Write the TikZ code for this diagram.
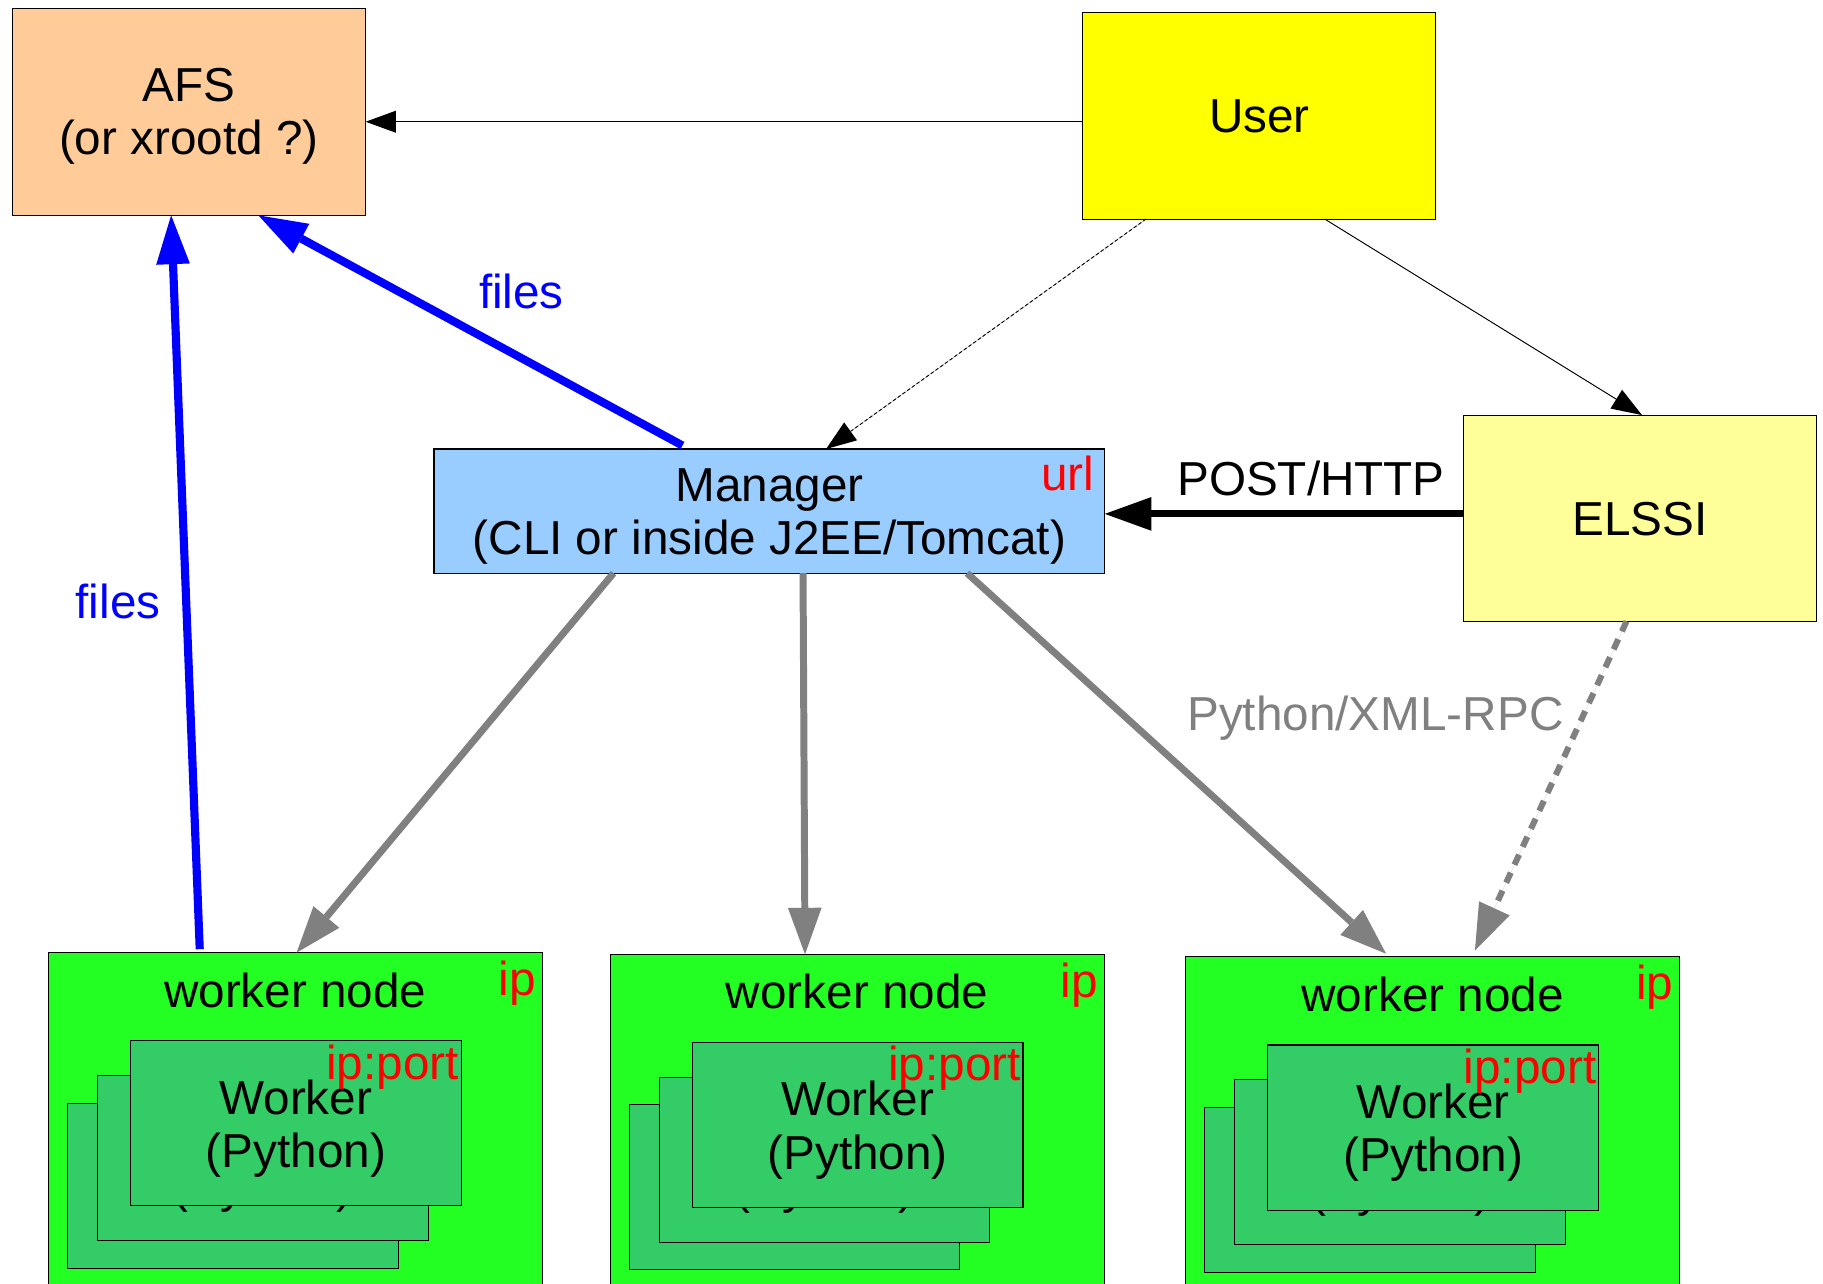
\documentclass[tikz,border=0pt]{standalone}
\usepackage{fontspec}
\setmainfont{Liberation Sans}
\usetikzlibrary{arrows.meta}
\definecolor{afsc}{HTML}{FFCC99}
\definecolor{userc}{HTML}{FFFF00}
\definecolor{elssic}{HTML}{FFFF99}
\definecolor{mgrc}{HTML}{99CCFF}
\definecolor{wnc}{HTML}{23FF23}
\definecolor{wkc}{HTML}{33CC66}
\definecolor{grayc}{HTML}{808080}
\definecolor{bluec}{HTML}{0000FF}
\definecolor{redc}{HTML}{FF0000}
\newcommand\fsz{\fontsize{41}{46}\selectfont}
\newcommand\wnodegroup[3]{%
  \node[box,fill=wnc,minimum width=425pt,minimum height=300pt] (#1) at (#2,#3) {};
  \node[lbl] (#1t) at ([yshift=-47pt]#1.north) {worker node};
  \node[lbl,anchor=base east,text=redc] (#1ip) at ([xshift=-5.5pt,yshift=-37pt]#1.north east) {ip};
  \node[box,fill=wkc,minimum width=284.5pt,minimum height=142pt] (#1b) at ([xshift=16.4pt,yshift=-129.5pt]#1.north west) {};
  \node[lbl] (#1bt1) at ([yshift=-63pt]#1b.north) {Worker};
  \node[lbl] (#1bt2) at ([yshift=-109pt]#1b.north) {(Python)};
  \node[box,fill=wkc,minimum width=284.5pt,minimum height=142pt] (#1m) at ([xshift=42.2pt,yshift=-105.6pt]#1.north west) {};
  \node[lbl] (#1mt1) at ([yshift=-63pt]#1m.north) {Worker};
  \node[lbl] (#1mt2) at ([yshift=-109pt]#1m.north) {(Python)};
  \node[box,fill=wkc,minimum width=284.5pt,minimum height=142pt] (#1f) at ([xshift=70.7pt,yshift=-75.8pt]#1.north west) {};
  \node[lbl] (#1ft1) at ([yshift=-63pt]#1f.north) {Worker};
  \node[lbl] (#1ft2) at ([yshift=-109pt]#1f.north) {(Python)};
  \node[lbl,anchor=base east,text=redc] (#1fport) at ([xshift=-2pt,yshift=-33pt]#1f.north east) {ip:port};
}
\begin{document}
\begin{tikzpicture}[x=1pt,y=-1pt,
  box/.style={draw=black,line width=0.9pt,inner sep=0pt,outer sep=0pt,anchor=north west},
  lbl/.style={inner sep=0pt,outer sep=0pt,anchor=base,font=\fsz},
  thinarr/.style={draw=black,line width=0.8pt,-{Triangle[length=26pt,width=19pt,line width=0pt]}},
  thickarr/.style={line width=6pt,-{Triangle[length=40pt,width=29pt,line width=0pt]}},
  bluearr/.style={draw=bluec,fill=bluec,line width=7pt,-{Triangle[length=42pt,width=29pt,line width=0pt]}},
  grayarr/.style={draw=grayc,fill=grayc,thickarr},
]
\useasboundingbox (0,0) rectangle (1568,1104);
\clip (0,0) rectangle (1568,1104);

% main boxes
\node[box,fill=afsc,minimum width=304pt,minimum height=178pt] (afs) at (10.5,7.2) {};
\node[lbl] (afst1) at (162.5,87.5) {AFS};
\node[lbl] (afst2) at (162.5,133) {(or xrootd ?)};

\node[box,fill=userc,minimum width=303.7pt,minimum height=177.3pt] (user) at (931.3,11.1) {};
\node[lbl] (usert) at (1083.2,114.2) {User};

\node[box,fill=elssic,minimum width=304pt,minimum height=177.4pt] (elssi) at (1258.5,357) {};
\node[lbl] (elssit) at (1410.5,460.3) {ELSSI};

\node[box,fill=mgrc,minimum width=577pt,minimum height=106.8pt] (mgr) at (373.3,386.2) {};
\node[lbl] (mgrt1) at (661.8,431.5) {Manager};
\node[lbl] (mgrt2) at (661.8,477) {(CLI or inside J2EE/Tomcat)};
\node[lbl,anchor=base east,text=redc] (mgrurl) at (941,422) {url};

% worker nodes
\wnodegroup{wa}{41.5}{819.4}
\wnodegroup{wb}{524.7}{820.8}
\wnodegroup{wc}{1019.8}{823}

% labels
\node[lbl] (post) at (1127.6,425.8) {POST/HTTP};
\node[lbl,text=grayc] (rpc) at (1183,628) {Python/XML-RPC};
\node[lbl,text=bluec] (files1) at (448.5,265) {files};
\node[lbl,text=bluec] (files2) at (101.5,532) {files};

% connectors
\draw[thinarr,fill=black] (user.west |- 0,104.7) -- (afs.east |- 0,104.7);
\draw[thinarr,fill=black,dash pattern=on 3pt off 2pt] ([xshift=54.4pt]user.south west) -- ([xshift=337.2pt]mgr.north west);
\draw[thinarr,fill=black] ([xshift=208.1pt]user.south west) -- ([xshift=153.8pt]elssi.north west);
\draw[thickarr,draw=black,fill=black] (elssi.west |- 0,442) -- (mgr.east |- 0,442);

\draw[bluearr] ([xshift=213.7pt,yshift=3pt]mgr.north west) -- ([xshift=211.7pt]afs.south west);
\draw[bluearr] ([xshift=130.3pt,yshift=3pt]wa.north west) -- ([xshift=136.7pt]afs.south west);

\draw[grayarr] ([xshift=154.4pt]mgr.south west) -- ([xshift=213.6pt]wa.north west);
\draw[grayarr] ([xshift=317.4pt]mgr.south west) -- ([xshift=167.7pt]wb.north west);
\draw[grayarr] ([xshift=458.5pt]mgr.south west) -- ([xshift=172.4pt,yshift=2.7pt]wc.north west);
\draw[draw=grayc,fill=grayc,line width=5.2pt,dash pattern=on 9.5pt off 7.5pt,-{Triangle[length=40pt,width=29pt,line width=0pt]}] ([xshift=140.5pt]elssi.south west) -- ([xshift=248.8pt,yshift=5.4pt]wc.north west);
\end{tikzpicture}
\end{document}
